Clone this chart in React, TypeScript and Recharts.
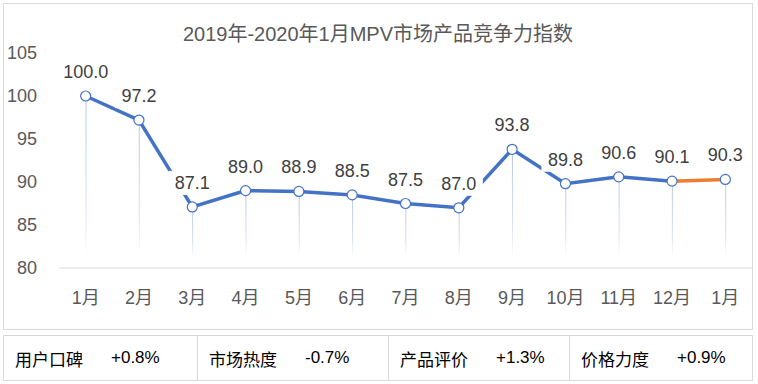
import React from 'react';
import { ComposedChart, Line, Bar, XAxis, YAxis, LabelList } from 'recharts';

const months = ['1月', '2月', '3月', '4月', '5月', '6月', '7月', '8月', '9月', '10月', '11月', '12月', '1月'];
const indexValues = [100.0, 97.2, 87.1, 89.0, 88.9, 88.5, 87.5, 87.0, 93.8, 89.8, 90.6, 90.1, 90.3];
const yTicks = [80, 85, 90, 95, 100, 105];
const factorNames = ['用户口碑', '市场热度', '产品评价', '价格力度'];
const factorChanges = ['+0.8%', '-0.7%', '+1.3%', '+0.9%'];

const FONT = '"Liberation Sans", Arial, "Noto Sans CJK SC", sans-serif';
const BLUE = '#4472c4';
const ORANGE = '#ed7d31';

const chartData = months.map((month, i) => ({
  month,
  value: indexValues[i],
  main: i < 12 ? indexValues[i] : null,
  latest: i >= 11 ? indexValues[i] : null,
}));

// thin fading drop line from each point down toward the axis
const DropLine = (props: any) => {
  const { x, y, width, height } = props;
  if (height == null || height <= 12) return null;
  return (
    <rect
      x={x + width / 2 - 0.5}
      y={y}
      width={1}
      height={height - 10}
      fill="url(#dropFade)"
    />
  );
};

const ValueLabel = (props: any) => {
  const { x, y, value } = props;
  if (value == null) return null;
  const text = Number(value).toFixed(1);
  const w = text.length * 9.5 + 10;
  const cy = y - 24;
  return (
    <g>
      <rect x={x - w / 2} y={cy - 12} width={w} height={24} fill="#ffffff" />
      <text
        x={x}
        y={cy}
        textAnchor="middle"
        dominantBaseline="central"
        fill="#404040"
        fontSize={18}
        fontFamily={FONT}
      >
        {text}
      </text>
    </g>
  );
};

export default function App() {
  return (
    <div style={{ position: 'absolute', left: 0, top: 0, width: 758, height: 384, background: '#fff', fontFamily: FONT }}>
      <div
        style={{
          position: 'absolute',
          left: 3,
          top: 3,
          width: 748,
          height: 325,
          border: '1px solid #d9d9d9',
        }}
      >
        <div
          style={{
            position: 'absolute',
            left: 0,
            top: 17,
            width: 748,
            height: 26,
            lineHeight: '26px',
            textAlign: 'center',
            fontSize: 20,
            color: '#595959',
          }}
        >
          2019年-2020年1月MPV市场产品竞争力指数
        </div>
        <ComposedChart
          width={748}
          height={325}
          data={chartData}
          margin={{ top: 49, right: 0, left: 0, bottom: 0 }}
          style={{ position: 'absolute', left: 0, top: 0 }}
        >
          <defs>
            <linearGradient id="dropFade" x1="0" y1="0" x2="0" y2="1">
              <stop offset="0%" stopColor="#b4c7e7" />
              <stop offset="70%" stopColor="#d9e2f3" />
              <stop offset="100%" stopColor="#ffffff" />
            </linearGradient>
          </defs>
          <XAxis
            dataKey="month"
            axisLine={{ stroke: '#d9d9d9', strokeWidth: 1 }}
            tickLine={false}
            tickSize={0}
            tickMargin={23}
            height={61}
            interval={0}
            tick={{ fill: '#595959', fontSize: 18, fontFamily: FONT }}
          />
          <YAxis
            type="number"
            domain={[80, 105]}
            ticks={yTicks}
            axisLine={false}
            tickLine={false}
            tickSize={0}
            tickMargin={22}
            width={55}
            tick={{ fill: '#595959', fontSize: 18, fontFamily: FONT }}
          />
          <Bar dataKey="value" barSize={10} shape={DropLine} isAnimationActive={false} />
          <Line
            dataKey="latest"
            stroke={ORANGE}
            strokeWidth={3.5}
            dot={false}
            activeDot={false}
            isAnimationActive={false}
          />
          <Line
            dataKey="main"
            stroke={BLUE}
            strokeWidth={3.5}
            dot={false}
            activeDot={false}
            isAnimationActive={false}
          />
          <Line
            dataKey="value"
            stroke="none"
            dot={{ r: 5, fill: '#ffffff', stroke: BLUE, strokeWidth: 1.2 }}
            activeDot={false}
            isAnimationActive={false}
          >
            <LabelList dataKey="value" content={ValueLabel} />
          </Line>
        </ComposedChart>
      </div>
      <div
        style={{
          position: 'absolute',
          left: 3,
          top: 335,
          width: 748,
          height: 44,
          border: '1px solid #d9d9d9',
          display: 'flex',
          color: '#000',
          fontSize: 17,
        }}
      >
        {factorNames.map((name, i) => (
          <div
            key={name}
            style={{
              width: [193, 191, 181, 183][i],
              borderLeft: i > 0 ? '1px solid #d9d9d9' : 'none',
              display: 'flex',
              alignItems: 'center',
              paddingLeft: 11,
              boxSizing: 'border-box',
            }}
          >
            <span style={{ width: 96 }}>{name}</span>
            <span>{factorChanges[i]}</span>
          </div>
        ))}
      </div>
    </div>
  );
}
